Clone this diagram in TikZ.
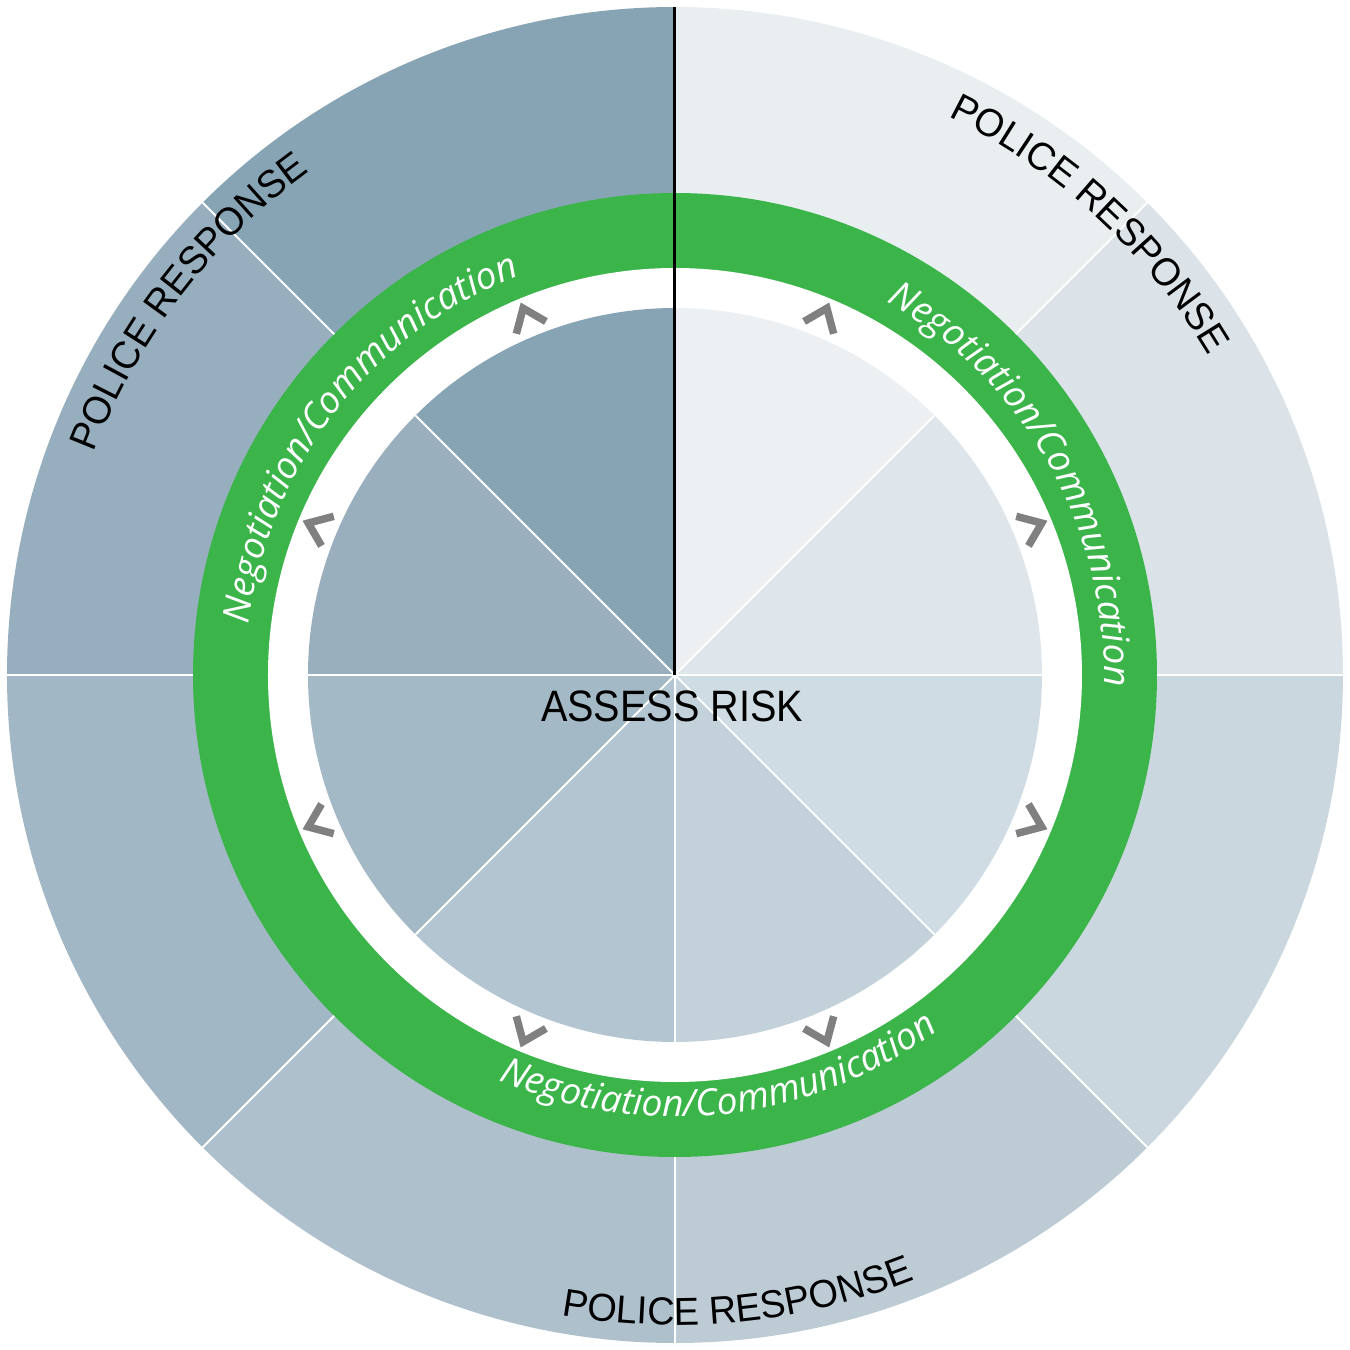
\documentclass[tikz,border=0pt]{standalone}
\usepackage{fontspec}
\usetikzlibrary{decorations.text}
\newfontfamily\capsfont[FakeStretch=0.9]{Liberation Sans}
\newfontfamily\widecapsfont[FakeStretch=0.97]{Liberation Sans}
\newfontfamily\ringfont{Open Sans}
\newcommand\policestyle{\widecapsfont\fontsize{39}{42}\selectfont\color{black}}
\newcommand\ringlabelstyle{\ringfont\itshape\fontsize{37}{40}\selectfont\color{white}}

% outer ring sectors
\definecolor{oA}{HTML}{87A4B5}
\definecolor{oB}{HTML}{97AEBE}
\definecolor{oC}{HTML}{A2B7C5}
\definecolor{oD}{HTML}{AFC0CD}
\definecolor{oE}{HTML}{BDCBD5}
\definecolor{oF}{HTML}{CBD7DF}
\definecolor{oG}{HTML}{DBE3E9}
\definecolor{oH}{HTML}{E9EEF1}
% inner disc sectors
\definecolor{iA}{HTML}{87A4B5}
\definecolor{iB}{HTML}{99AFBE}
\definecolor{iC}{HTML}{A4B9C6}
\definecolor{iD}{HTML}{B3C5D1}
\definecolor{iE}{HTML}{C3D1DA}
\definecolor{iF}{HTML}{D0DCE3}
\definecolor{iG}{HTML}{DEE5EB}
\definecolor{iH}{HTML}{ECF0F3}
\definecolor{ringgreen}{HTML}{3BB54A}
\definecolor{chevgray}{HTML}{808080}

\begin{document}
\begin{tikzpicture}[x=1pt,y=1pt,
  divider/.style={white, line width=2pt},
  axisline/.style={black, line width=3pt},
  chevron/.style={draw=chevgray, line width=7.5pt, line join=miter, line cap=butt},
  policetext/.style={decorate, decoration={text along path, text align=center,
      text={|\policestyle|POLICE RESPONSE}}},
  ringtext/.style={decorate, decoration={text along path, text align=center,
      text={|\ringlabelstyle|Negotiation/Communication}}}]
\useasboundingbox (-675,-675) rectangle (675,675);

% outer ring of eight sectors
\foreach \s/\c in {90/oA,135/oB,180/oC,225/oD,270/oE,315/oF,0/oG,45/oH}
  \fill[\c] (0,0) -- (\s:668) arc[start angle=\s, end angle=\s+45, radius=668pt] -- cycle;

% green ring and white gap
\fill[ringgreen] (0,0) circle[radius=482pt];
\fill[white] (0,0) circle[radius=407pt];

% inner disc of eight sectors
\foreach \s/\c in {90/iA,135/iB,180/iC,225/iD,270/iE,315/iF,0/iG,45/iH}
  \fill[\c] (0,0) -- (\s:367) arc[start angle=\s, end angle=\s+45, radius=367pt] -- cycle;

% sector dividers
\foreach \a in {0,45,135,180,225,270,315} {
  \draw[divider] (\a:482) -- (\a:668);
  \draw[divider] (0,0) -- (\a:367);
}
\draw[axisline] (0,0) -- (90:668);

% chevrons in the white gap, pointing outward
\foreach \a in {22.5,67.5,...,337.5}
  \draw[chevron, rotate=\a] (376,16) -- (397,0) -- (376,-16);

% curved labels on the outer ring
\path[policetext] (202.5:622) arc[start angle=202.5, end angle=82.5, radius=622pt];
\path[policetext] (107.4:622) arc[start angle=107.4, end angle=-12.6, radius=622pt];
\path[policetext] (-144.2:650) arc[start angle=-144.2, end angle=-24.2, radius=650pt];

% curved labels on the green ring
\path[ringtext] (202.2:429) arc[start angle=202.2, end angle=82.2, radius=429pt];
\path[ringtext] (89.5:429) arc[start angle=89.5, end angle=-30.5, radius=429pt];
\path[ringtext] (-143.5:442) arc[start angle=-143.5, end angle=-23.5, radius=442pt];

% centre label
\node[font=\capsfont\fontsize{44}{48}\selectfont, inner sep=0pt] (assess) at (-3,-31) {ASSESS RISK};
\end{tikzpicture}
\end{document}
